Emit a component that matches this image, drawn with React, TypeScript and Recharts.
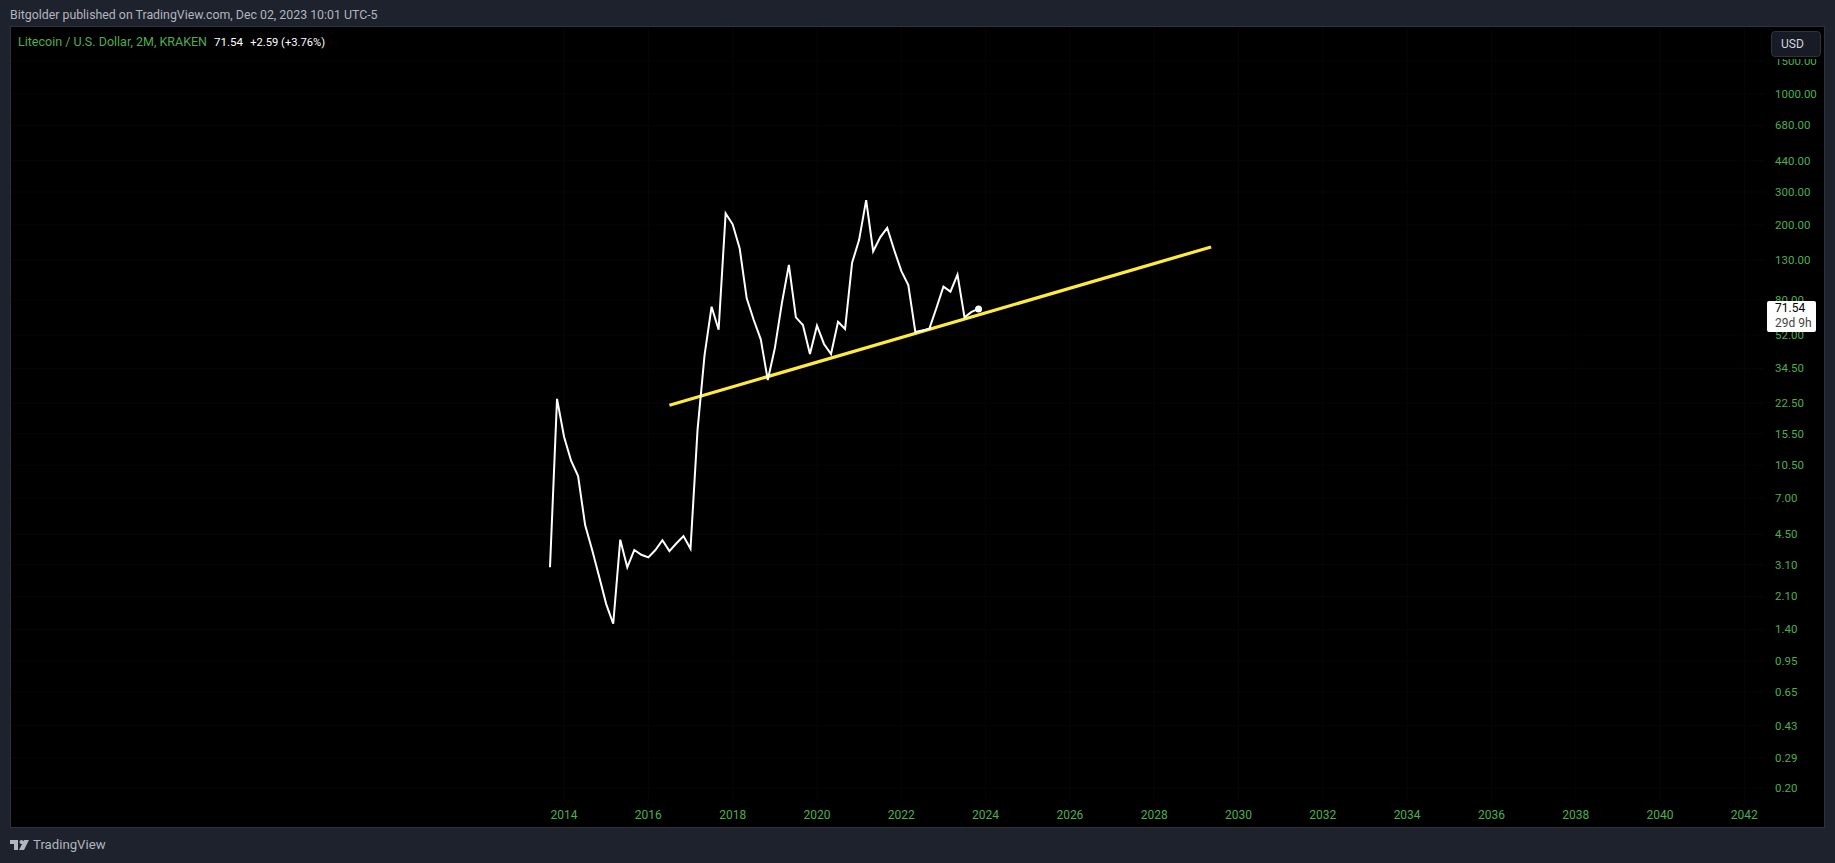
import { LineChart, Line, XAxis, YAxis, CartesianGrid } from 'recharts'

const dates = [
  '2013-09', '2013-11',
  '2014-01', '2014-03', '2014-05', '2014-07', '2014-09', '2014-11',
  '2015-01', '2015-03', '2015-05', '2015-07', '2015-09', '2015-11',
  '2016-01', '2016-03', '2016-05', '2016-07', '2016-09', '2016-11',
  '2017-01', '2017-03', '2017-05', '2017-07', '2017-09', '2017-11',
  '2018-01', '2018-03', '2018-05', '2018-07', '2018-09', '2018-11',
  '2019-01', '2019-03', '2019-05', '2019-07', '2019-09', '2019-11',
  '2020-01', '2020-03', '2020-05', '2020-07', '2020-09', '2020-11',
  '2021-01', '2021-03', '2021-05', '2021-07', '2021-09', '2021-11',
  '2022-01', '2022-03', '2022-05', '2022-07', '2022-09', '2022-11',
  '2023-01', '2023-03', '2023-05', '2023-07', '2023-09', '2023-11',
]

const closes = [
  3.0, 23.7, 14.9, 11.1, 9.2, 5.04, 3.71, 2.67, 1.91, 1.5, 4.21, 3.0,
  3.71, 3.5, 3.39, 3.71, 4.18, 3.66, 4.03, 4.4, 3.77, 16.2, 40.6, 73.5,
  55.4, 231, 202, 150, 81.4, 62.4, 49.2, 29.9, 44.1, 76.6, 122.6, 64.5,
  58.7, 41.1, 58.2, 46.5, 41.1, 61.1, 55.9, 126, 167, 272, 145, 172,
  193, 147, 114, 95.9, 53.9, 54.8, 56.1, 72.3, 94, 88.4, 109, 64.5,
  68.95, 71.54,
]

const trendYears = [2016.5, 2029.35]
const trendPrices = [21.9, 153]

const yearTicks = [
  2014, 2016, 2018, 2020, 2022, 2024, 2026, 2028, 2030, 2032, 2034, 2036, 2038, 2040, 2042,
]
const priceTicks = [
  1500, 1000, 680, 440, 300, 200, 130, 80, 52, 34.5, 22.5, 15.5, 10.5, 7, 4.5, 3.1, 2.1, 1.4,
  0.95, 0.65, 0.43, 0.29, 0.2,
]

const toYear = (d: string) => {
  const [y, m] = d.split('-').map(Number)
  return y + (m - 1) / 12
}

const priceData = dates.map((d, i) => ({ year: toYear(d), price: closes[i] }))
const trendData = trendYears.map((y, i) => ({ year: y, price: trendPrices[i] }))

const GREEN = '#4caf50'
const FONT = 'Roboto, sans-serif'

function LastDot(props: any) {
  if (props.index !== closes.length - 1) return <g key={props.index} />
  return <circle key={props.index} cx={props.cx} cy={props.cy} r={3.5} fill="#ffffff" />
}

export default function App() {
  return (
    <div
      style={{
        position: 'absolute',
        left: 0,
        top: 0,
        width: 1835,
        height: 863,
        background: '#1e222d',
        overflow: 'hidden',
        fontFamily: FONT,
      }}
    >
      <div style={{ position: 'absolute', left: 10, top: 8, fontSize: 12.35, color: '#b2b5be', whiteSpace: 'nowrap' }}>
        Bitgolder published on TradingView.com, Dec 02, 2023 10:01 UTC-5
      </div>

      <div
        style={{
          position: 'absolute',
          left: 10,
          top: 26,
          width: 1815,
          height: 802,
          background: '#000000',
          border: '1px solid #2e323d',
          boxSizing: 'border-box',
        }}
      />

      <div style={{ position: 'absolute', left: 0, top: 0 }}>
        <LineChart
          width={1835}
          height={863}
          margin={{ top: 27, right: 10, bottom: 39, left: 11 }}
          data={priceData}
        >
          <CartesianGrid stroke="#050705" verticalValues={yearTicks} horizontalValues={priceTicks} />
          <XAxis
            type="number"
            dataKey="year"
            domain={[2000.88, 2042.49]}
            allowDataOverflow
            ticks={yearTicks}
            interval={0}
            axisLine={false}
            tickLine={false}
            height={24}
            tickMargin={4}
            tick={{ fontSize: 12, fill: GREEN, fontFamily: FONT }}
          />
          <YAxis
            orientation="right"
            scale="log"
            domain={[0.1725, 2275]}
            allowDataOverflow
            ticks={priceTicks}
            interval={0}
            width={60}
            axisLine={false}
            tickLine={false}
            tickSize={0}
            tickMargin={10}
            tickFormatter={(v: number) => v.toFixed(2)}
            tick={{ fontSize: 11.5, fill: GREEN, fontFamily: FONT }}
          />
          <Line
            data={trendData}
            dataKey="price"
            stroke="#ffeb3b"
            strokeWidth={3.2}
            dot={false}
            isAnimationActive={false}
          />
          <Line
            dataKey="price"
            stroke="#ffffff"
            strokeWidth={2}
            dot={LastDot}
            activeDot={false}
            isAnimationActive={false}
          />
        </LineChart>
      </div>

      <div style={{ position: 'absolute', left: 18, top: 34, fontSize: 12.5, whiteSpace: 'nowrap' }}>
        <span style={{ color: GREEN }}>Litecoin / U.S. Dollar, 2M, KRAKEN</span>
        <span style={{ color: '#ffffff', marginLeft: 7, fontSize: 11.6 }}>71.54</span>
        <span style={{ color: '#ffffff', marginLeft: 7, fontSize: 11.2 }}>+2.59 (+3.76%)</span>
      </div>

      <div
        style={{
          position: 'absolute',
          left: 1771,
          top: 31,
          width: 50,
          height: 26,
          background: '#171b26',
          border: '1px solid #2e323d',
          borderRadius: 4,
          boxSizing: 'border-box',
          boxShadow: '0 2px 0 #000000',
          color: '#d1d4dc',
          fontSize: 12,
          lineHeight: '24px',
          paddingLeft: 9,
        }}
      >
        USD
      </div>

      <div
        style={{
          position: 'absolute',
          left: 1767,
          top: 301,
          width: 49,
          height: 31,
          background: '#ffffff',
          borderRadius: 2,
          fontSize: 12,
          lineHeight: '15px',
          paddingLeft: 8,
          boxSizing: 'border-box',
          color: '#000000',
        }}
      >
        <div>71.54</div>
        <div style={{ color: '#444444' }}>29d 9h</div>
      </div>

      <svg style={{ position: 'absolute', left: 10, top: 839 }} width={20} height={12} viewBox="0 0 20 12">
        <path d="M0 1H8V11H4V5H0Z M11.5 1 A2 2 0 1 1 11.49 1 Z M14 1H19L14 11H9Z" fill="#b2b5be" />
      </svg>
      <div style={{ position: 'absolute', left: 33, top: 837, fontSize: 13.2, color: '#b2b5be', whiteSpace: 'nowrap' }}>
        TradingView
      </div>
    </div>
  )
}
